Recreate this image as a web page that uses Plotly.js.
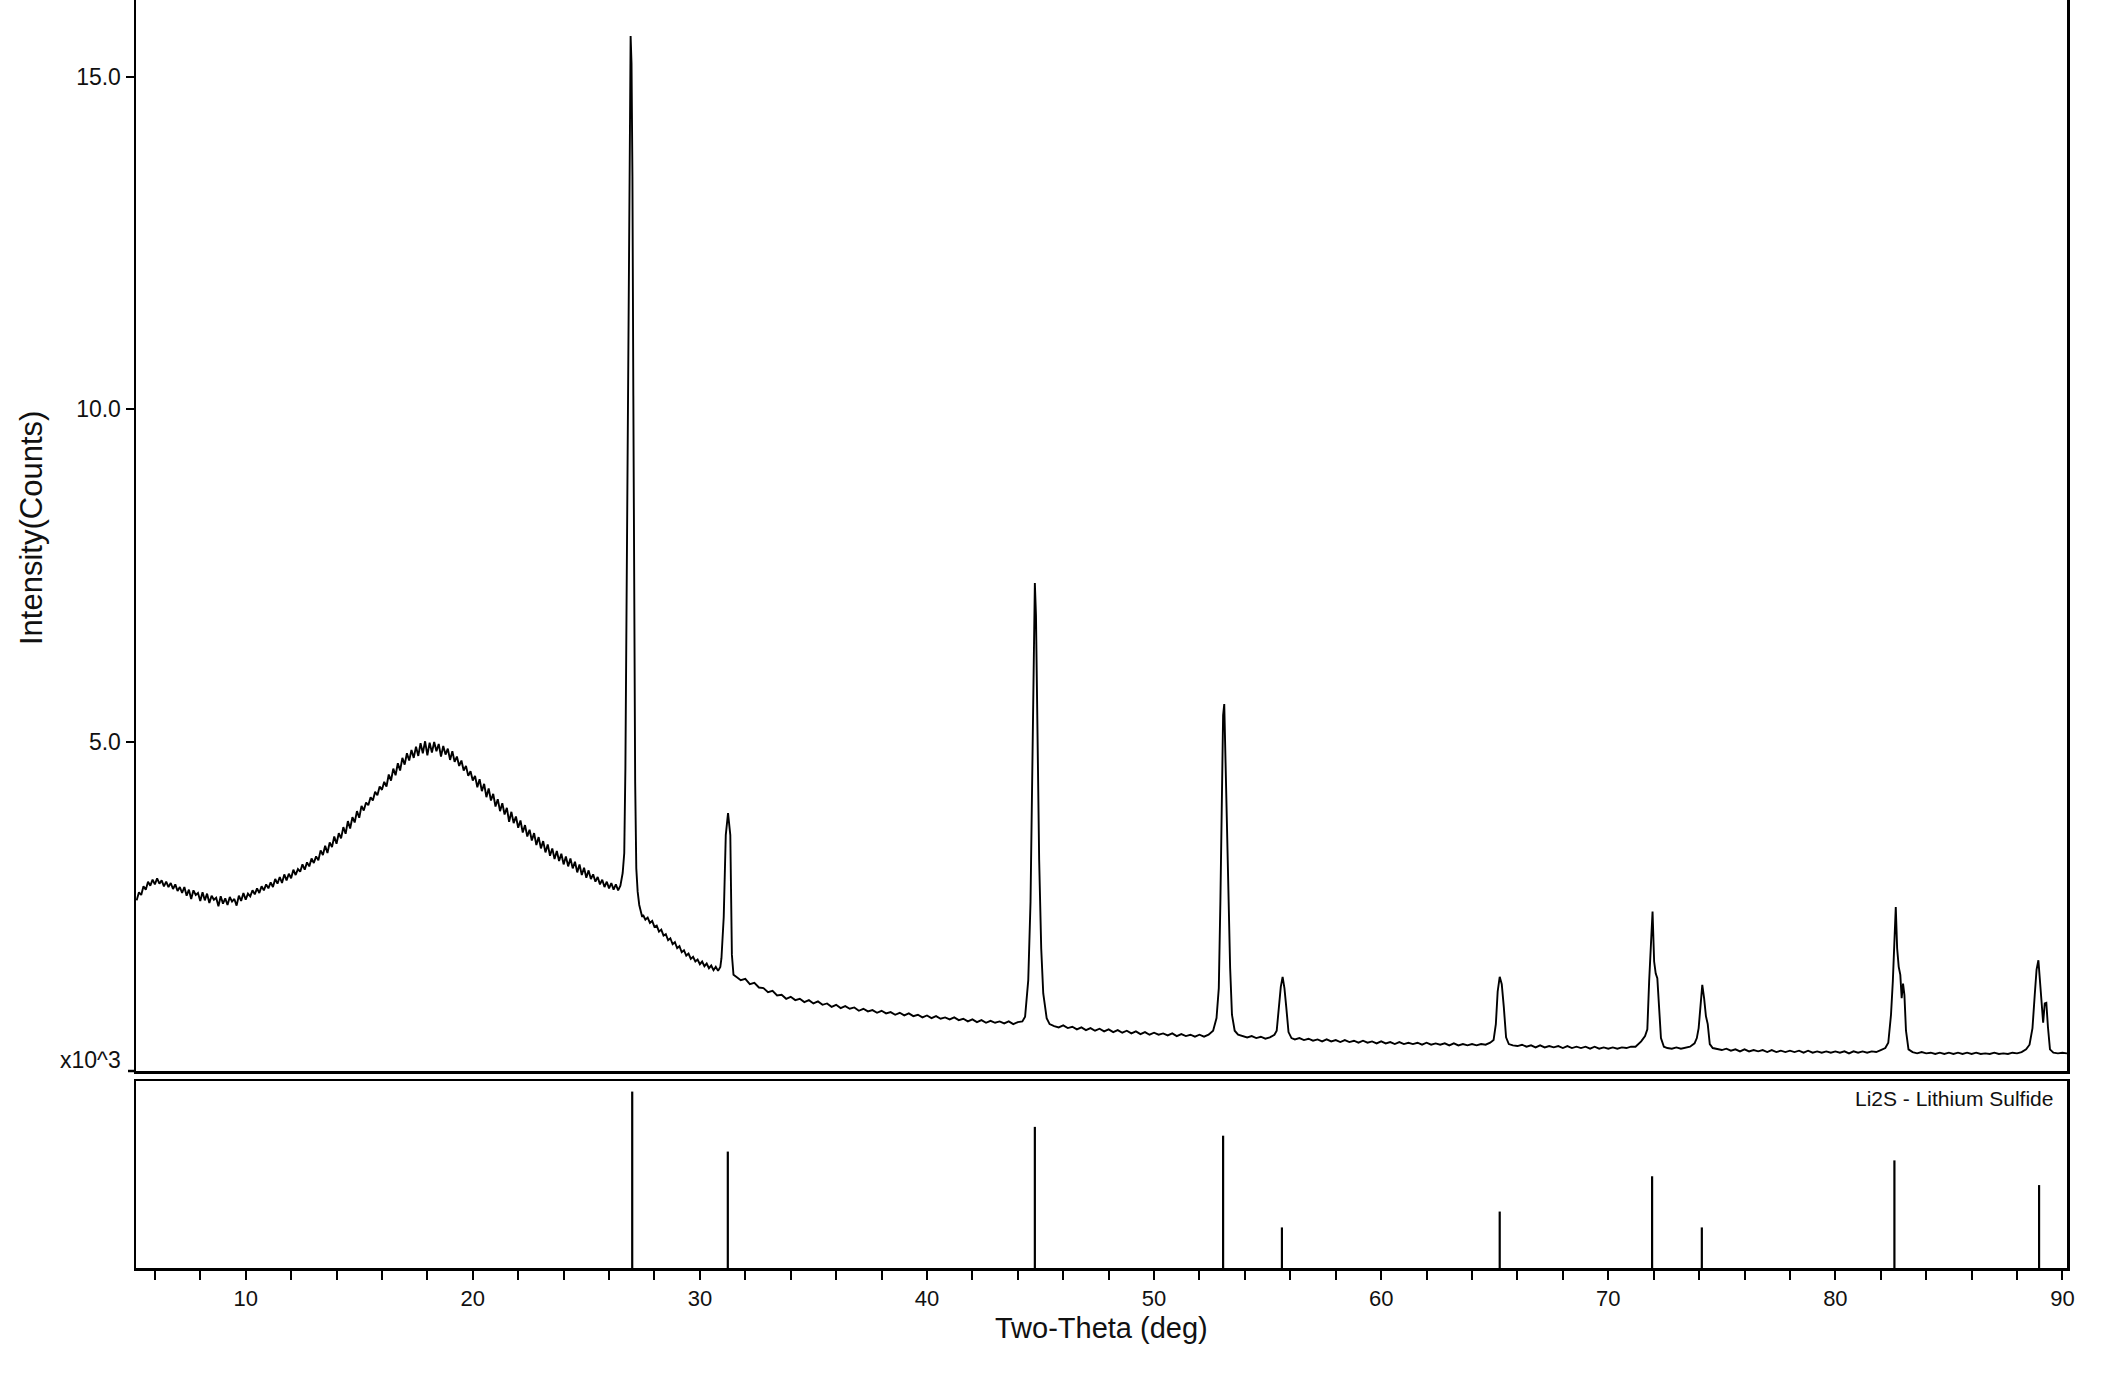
<!DOCTYPE html>
<html><head><meta charset="utf-8">
<script src="https://cdn.plot.ly/plotly-3.0.1.min.js"></script>
<style>html,body{margin:0;padding:0;background:#fff;}#chart{width:2111px;height:1399px;}</style>
</head><body><div id="chart"></div>
<script>
// Measured scan: 2-theta (deg) and intensity (x10^3 counts)
const twoTheta = [
5.2,5.3,5.4,5.5,5.6,5.7,5.8,5.9,6.0,6.1,
6.2,6.3,6.4,6.5,6.6,6.7,6.8,6.9,7.0,7.1,
7.2,7.3,7.4,7.5,7.6,7.7,7.8,7.9,8.0,8.1,
8.2,8.3,8.4,8.5,8.6,8.7,8.8,8.9,9.0,9.1,
9.2,9.3,9.4,9.5,9.6,9.7,9.8,9.9,10.0,10.1,
10.2,10.3,10.4,10.5,10.6,10.7,10.8,10.9,11.0,11.1,
11.2,11.3,11.4,11.5,11.6,11.7,11.8,11.9,12.0,12.1,
12.2,12.3,12.4,12.5,12.6,12.7,12.8,12.9,13.0,13.1,
13.2,13.3,13.4,13.5,13.6,13.7,13.8,13.9,14.0,14.1,
14.2,14.3,14.4,14.5,14.6,14.7,14.8,14.9,15.0,15.1,
15.2,15.3,15.4,15.5,15.6,15.7,15.8,15.9,16.0,16.1,
16.2,16.3,16.4,16.5,16.6,16.7,16.8,16.9,17.0,17.1,
17.2,17.3,17.4,17.5,17.6,17.7,17.8,17.9,18.0,18.1,
18.2,18.3,18.4,18.5,18.6,18.7,18.8,18.9,19.0,19.1,
19.2,19.3,19.4,19.5,19.6,19.7,19.8,19.9,20.0,20.1,
20.2,20.3,20.4,20.5,20.6,20.7,20.8,20.9,21.0,21.1,
21.2,21.3,21.4,21.5,21.6,21.7,21.8,21.9,22.0,22.1,
22.2,22.3,22.4,22.5,22.6,22.7,22.8,22.9,23.0,23.1,
23.2,23.3,23.4,23.5,23.6,23.7,23.8,23.9,24.0,24.1,
24.2,24.3,24.4,24.5,24.6,24.7,24.8,24.9,25.0,25.1,
25.2,25.3,25.4,25.5,25.6,25.7,25.8,25.9,26.0,26.1,
26.2,26.3,26.4,26.5,
26.60,26.67,26.72,26.78,26.84,26.88,26.92,26.95,26.99,27.03,27.07,27.11,27.15,27.20,27.26,27.33,27.40,27.46,
27.5,27.6,27.7,27.8,27.9,28.0,28.1,28.2,28.3,28.4,
28.5,28.6,28.7,28.8,28.9,29.0,29.1,29.2,29.3,29.4,
29.5,29.6,29.7,29.8,29.9,30.0,30.1,30.2,30.3,30.4,
30.5,30.6,30.7,30.8,30.9,
30.95,31.05,31.14,31.24,31.34,31.41,31.48,
31.6,31.8,32.0,32.2,32.4,32.6,32.8,33.0,33.2,33.4,
33.6,33.8,34.0,34.2,34.4,34.6,34.8,35.0,35.2,35.4,
35.6,35.8,36.0,36.2,36.4,36.6,36.8,37.0,37.2,37.4,
37.6,37.8,38.0,38.2,38.4,38.6,38.8,39.0,39.2,39.4,
39.6,39.8,40.0,40.2,40.4,40.6,40.8,41.0,41.2,41.4,
41.6,41.8,42.0,42.2,42.4,42.6,42.8,43.0,43.2,43.4,
43.6,43.8,44.0,44.2,
44.32,44.46,44.56,44.64,44.70,44.75,44.80,44.87,44.94,45.03,45.12,45.27,
45.4,45.6,45.8,46.0,46.2,46.4,46.6,46.8,47.0,47.2,
47.4,47.6,47.8,48.0,48.2,48.4,48.6,48.8,49.0,49.2,
49.4,49.6,49.8,50.0,50.2,50.4,50.6,50.8,51.0,51.2,
51.4,51.6,51.8,52.0,52.2,52.4,52.6,
52.75,52.85,52.92,52.98,53.04,53.09,53.15,53.21,53.28,53.35,53.43,53.55,
53.7,53.9,54.1,54.3,54.5,54.7,54.9,55.1,55.3,
55.40,55.50,55.58,55.66,55.74,55.82,55.92,56.05,
56.2,56.4,56.6,56.8,57.0,57.2,57.4,57.6,57.8,58.0,
58.2,58.4,58.6,58.8,59.0,59.2,59.4,59.6,59.8,60.0,
60.2,60.4,60.6,60.8,61.0,61.2,61.4,61.6,61.8,62.0,
62.2,62.4,62.6,62.8,63.0,63.2,63.4,63.6,63.8,64.0,
64.2,64.4,64.6,64.8,
64.95,65.05,65.13,65.22,65.31,65.40,65.50,65.62,
65.8,66.0,66.2,66.4,66.6,66.8,67.0,67.2,67.4,67.6,
67.8,68.0,68.2,68.4,68.6,68.8,69.0,69.2,69.4,69.6,
69.8,70.0,70.2,70.4,70.6,70.8,71.0,71.2,
71.45,71.62,71.72,71.80,71.88,71.95,72.02,72.09,72.16,72.24,72.32,72.45,
72.6,72.8,73.0,73.2,73.4,73.6,73.8,
73.90,73.98,74.06,74.14,74.22,74.30,74.38,74.47,
74.6,74.8,75.0,75.2,75.4,75.6,75.8,76.0,76.2,76.4,
76.6,76.8,77.0,77.2,77.4,77.6,77.8,78.0,78.2,78.4,
78.6,78.8,79.0,79.2,79.4,79.6,79.8,80.0,80.2,80.4,
80.6,80.8,81.0,81.2,81.4,81.6,81.8,82.0,82.2,
82.33,82.45,82.53,82.60,82.66,82.72,82.79,82.86,82.92,82.98,83.04,83.11,83.22,
83.4,83.6,83.8,84.0,84.2,84.4,84.6,84.8,85.0,85.2,
85.4,85.6,85.8,86.0,86.2,86.4,86.6,86.8,87.0,87.2,
87.4,87.6,87.8,88.0,88.2,88.4,
88.55,88.68,88.78,88.86,88.94,89.01,89.08,89.15,89.22,89.29,89.36,89.45,
89.6,89.8,90.0,90.2
];
const counts = [
2.62,2.74,2.70,2.83,2.78,2.90,2.84,2.93,2.86,2.95,
2.87,2.92,2.83,2.90,2.82,2.88,2.79,2.86,2.76,2.82,
2.73,2.82,2.69,2.78,2.64,2.77,2.70,2.73,2.61,2.74,
2.62,2.72,2.58,2.69,2.63,2.66,2.53,2.68,2.57,2.65,
2.55,2.67,2.60,2.64,2.54,2.69,2.61,2.73,2.63,2.72,
2.68,2.77,2.71,2.80,2.73,2.83,2.77,2.86,2.80,2.89,
2.82,2.94,2.87,2.97,2.88,3.01,2.92,3.02,2.95,3.08,
3.00,3.09,3.05,3.16,3.08,3.19,3.13,3.25,3.18,3.28,
3.22,3.37,3.30,3.44,3.33,3.49,3.42,3.58,3.47,3.63,
3.55,3.72,3.62,3.81,3.70,3.87,3.79,3.96,3.86,4.04,
3.97,4.09,4.05,4.17,4.12,4.25,4.20,4.33,4.28,4.40,
4.33,4.51,4.42,4.60,4.50,4.68,4.57,4.76,4.66,4.83,
4.72,4.88,4.76,4.93,4.79,4.98,4.83,5.01,4.80,4.99,
4.84,5.00,4.86,4.97,4.78,4.94,4.81,4.90,4.73,4.86,
4.70,4.78,4.64,4.72,4.57,4.64,4.49,4.56,4.42,4.49,
4.32,4.44,4.26,4.37,4.17,4.30,4.12,4.22,4.03,4.14,
3.96,4.08,3.91,4.01,3.80,3.95,3.78,3.88,3.71,3.82,
3.64,3.75,3.58,3.68,3.52,3.63,3.45,3.57,3.40,3.51,
3.34,3.46,3.29,3.40,3.24,3.36,3.21,3.32,3.16,3.28,
3.13,3.25,3.10,3.20,3.04,3.16,3.00,3.11,2.96,3.07,
2.94,3.01,2.90,2.97,2.86,2.93,2.82,2.90,2.80,2.88,
2.78,2.86,2.77,2.84,
3.03,3.33,4.60,7.80,11.50,13.30,15.10,15.61,15.20,13.50,10.20,6.44,4.40,3.10,2.75,2.55,2.47,2.37,
2.40,2.33,2.36,2.28,2.31,2.22,2.24,2.15,2.18,2.09,
2.11,2.02,2.05,1.96,1.99,1.90,1.93,1.84,1.87,1.79,
1.82,1.74,1.77,1.70,1.73,1.66,1.70,1.63,1.67,1.60,
1.64,1.57,1.62,1.56,1.62,
1.75,2.37,3.60,3.93,3.60,1.80,1.50,
1.47,1.42,1.44,1.36,1.38,1.31,1.30,1.24,1.26,1.19,
1.20,1.14,1.17,1.12,1.14,1.09,1.12,1.07,1.10,1.05,
1.07,1.02,1.05,1.00,1.03,0.99,1.01,0.96,0.99,0.95,
0.97,0.93,0.96,0.92,0.94,0.90,0.93,0.89,0.92,0.88,
0.90,0.86,0.89,0.85,0.88,0.84,0.86,0.83,0.86,0.82,
0.84,0.80,0.83,0.79,0.82,0.78,0.81,0.78,0.80,0.77,
0.80,0.76,0.79,0.80,
0.87,1.42,2.60,4.60,6.60,7.39,6.90,5.00,3.23,1.90,1.22,0.85,
0.76,0.73,0.71,0.74,0.70,0.72,0.68,0.71,0.67,0.70,
0.66,0.69,0.65,0.68,0.64,0.67,0.63,0.66,0.62,0.65,
0.61,0.64,0.60,0.63,0.60,0.62,0.59,0.62,0.58,0.61,
0.58,0.60,0.57,0.60,0.57,0.60,0.66,
0.85,1.30,2.60,4.20,5.40,5.57,4.70,3.60,2.60,1.60,0.90,0.66,
0.60,0.58,0.56,0.58,0.55,0.57,0.54,0.56,0.60,
0.66,1.00,1.32,1.47,1.30,1.02,0.64,0.55,
0.53,0.55,0.52,0.54,0.51,0.53,0.50,0.53,0.50,0.52,
0.49,0.52,0.49,0.51,0.48,0.51,0.48,0.50,0.47,0.50,
0.47,0.49,0.46,0.49,0.46,0.48,0.46,0.48,0.45,0.48,
0.45,0.47,0.45,0.47,0.44,0.47,0.44,0.46,0.44,0.46,
0.44,0.46,0.45,0.48,
0.52,0.76,1.25,1.47,1.36,1.02,0.56,0.46,
0.44,0.43,0.45,0.42,0.44,0.41,0.44,0.41,0.43,0.41,
0.43,0.40,0.43,0.40,0.42,0.40,0.42,0.39,0.42,0.39,
0.41,0.39,0.41,0.39,0.41,0.40,0.42,0.42,
0.50,0.58,0.68,1.40,2.10,2.45,1.70,1.52,1.45,1.00,0.55,0.42,
0.40,0.39,0.41,0.39,0.41,0.42,0.47,
0.55,0.70,1.05,1.35,1.15,0.88,0.76,0.46,
0.40,0.39,0.37,0.39,0.36,0.38,0.35,0.38,0.35,0.37,
0.35,0.37,0.34,0.37,0.34,0.36,0.34,0.36,0.34,0.36,
0.33,0.36,0.33,0.35,0.33,0.35,0.33,0.35,0.33,0.35,
0.32,0.35,0.33,0.35,0.33,0.35,0.34,0.37,0.40,
0.48,0.90,1.40,2.10,2.52,1.90,1.62,1.50,1.15,1.37,1.20,0.66,0.38,
0.34,0.32,0.34,0.32,0.33,0.31,0.33,0.31,0.33,0.31,
0.33,0.31,0.33,0.31,0.33,0.31,0.32,0.31,0.33,0.31,
0.32,0.31,0.33,0.32,0.34,0.38,
0.45,0.70,1.20,1.58,1.72,1.40,1.05,0.78,1.07,1.08,0.72,0.38,
0.33,0.32,0.33,0.32
];
// Reference pattern: Li2S - Lithium Sulfide
const refTheta = [27.02,31.23,44.75,53.04,55.63,65.22,71.93,74.12,82.60,88.97];
const refIntensity = [100,66,80,75,23,32,52,23,61,47];
const refName = 'Li2S - Lithium Sulfide';
// Axis ticks
const xTickVals = [10,20,30,40,50,60,70,80,90];
const xTickText = ['10','20','30','40','50','60','70','80','90'];
const yTickVals = [5,10,15];
const yTickText = ['5.0','10.0','15.0'];

const FONT = 'Liberation Sans, Arial, sans-serif';
const stickX = [], stickY = [];
refTheta.forEach((t, i) => { stickX.push(t, t, null); stickY.push(0, refIntensity[i], null); });

const traces = [
  {x: twoTheta, y: counts, xaxis: 'x2', yaxis: 'y', type: 'scatter', mode: 'lines',
   line: {color: '#000', width: 1.9}, hoverinfo: 'skip'},
  {x: stickX, y: stickY, xaxis: 'x', yaxis: 'y2', type: 'scatter', mode: 'lines',
   line: {color: '#000', width: 2.2}, hoverinfo: 'skip'}
];
const W = 2111, H = 1399, L = 136, R = 44, T = 0, B = 131;
const plotW = W - L - R, plotH = H - T - B;
const mainBottom = (plotH - 1071) / plotH;
const lowTop = (plotH - 1081) / plotH;
const axisCommon = {showgrid: false, zeroline: false, showline: true, linecolor: '#000', linewidth: 2.5};
const layout = {
  width: W, height: H, margin: {l: L, r: R, t: T, b: B, pad: 0},
  paper_bgcolor: '#fff', plot_bgcolor: '#fff', showlegend: false, hovermode: false,
  xaxis: Object.assign({}, axisCommon, {domain: [0, 1], anchor: 'y2', range: [5.17, 90.2], mirror: true,
    tickmode: 'array', tickvals: xTickVals, ticktext: xTickText, ticks: 'outside', ticklen: 9, tickwidth: 2, tickcolor: '#000',
    tickfont: {family: FONT, size: 22, color: '#111'},
    minor: {dtick: 2, tick0: 0, ticks: 'outside', ticklen: 9, tickwidth: 2, tickcolor: '#000', showgrid: false}}),
  yaxis2: Object.assign({}, axisCommon, {domain: [0, lowTop], anchor: 'x', range: [0, 106], mirror: true,
    showticklabels: false, ticks: ''}),
  xaxis2: Object.assign({}, axisCommon, {domain: [0, 1], anchor: 'y', range: [5.17, 90.2], showticklabels: false, ticks: ''}),
  yaxis: Object.assign({}, axisCommon, {domain: [mainBottom, 1], anchor: 'x2', range: [0.055, 16.15], mirror: true,
    tickmode: 'array', tickvals: yTickVals, ticktext: yTickText, ticks: 'outside', ticklen: 8, tickwidth: 2, tickcolor: '#000',
    tickfont: {family: FONT, size: 23, color: '#111'}}),
  shapes: [
    {type: 'line', xref: 'paper', yref: 'paper', x0: -8 / plotW, x1: 0, y0: mainBottom, y1: mainBottom, line: {color: '#000', width: 2.5}}
  ],
  annotations: [
    {text: 'x10^3', xref: 'paper', yref: 'paper', x: -13 / plotW, y: (plotH - 1060) / plotH, xanchor: 'right', yanchor: 'middle',
     showarrow: false, font: {family: FONT, size: 23, color: '#111'}},
    {text: refName, xref: 'paper', yref: 'paper', x: (2055 - L) / plotW, y: (plotH - 1098) / plotH, xanchor: 'right', yanchor: 'middle',
     showarrow: false, font: {family: FONT, size: 21, color: '#111'}},
    {text: 'Intensity(Counts)', xref: 'paper', yref: 'paper', x: (31 - L) / plotW, y: (plotH - 528) / plotH, xanchor: 'center', yanchor: 'middle',
     textangle: -90, showarrow: false, font: {family: FONT, size: 31, color: '#111'}},
    {text: 'Two-Theta (deg)', xref: 'paper', yref: 'paper', x: 0.5, y: (plotH - 1328) / plotH, xanchor: 'center', yanchor: 'middle',
     showarrow: false, font: {family: FONT, size: 29, color: '#111'}}
  ]
};
Plotly.newPlot('chart', traces, layout, {staticPlot: true, displayModeBar: false});
</script>
</body></html>
